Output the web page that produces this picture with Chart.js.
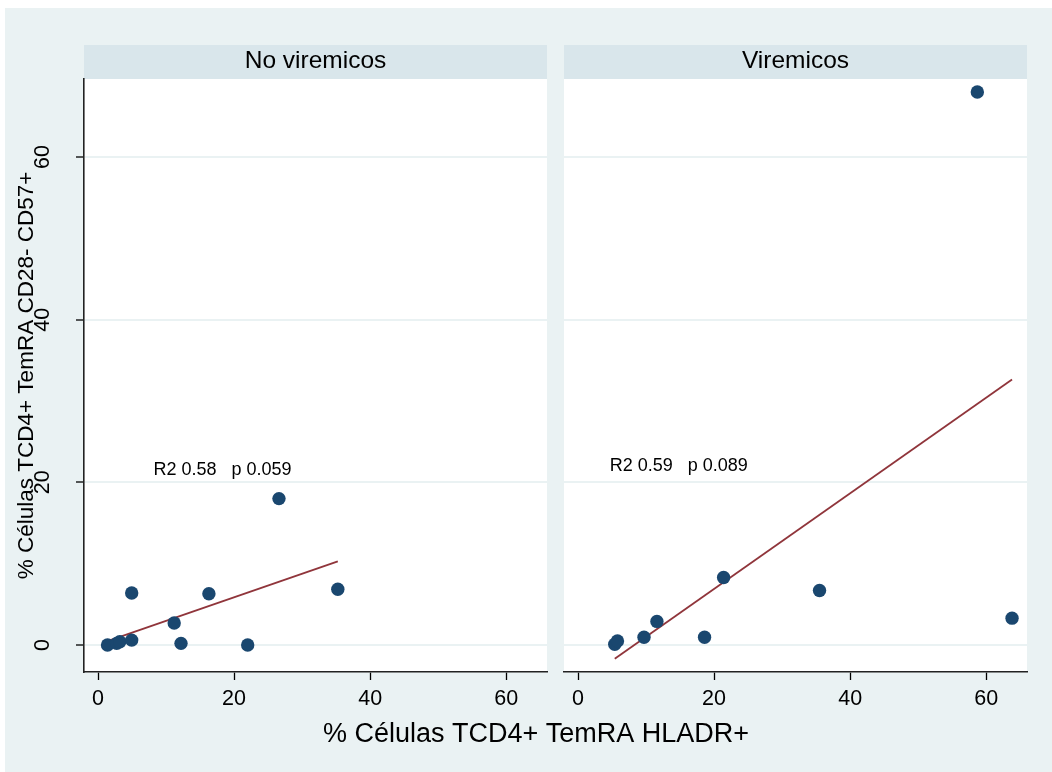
<!DOCTYPE html>
<html>
<head>
<meta charset="utf-8">
<script src="https://cdn.jsdelivr.net/npm/chart.js@4.4.1/dist/chart.umd.min.js"></script>
<style>
  html, body { margin: 0; padding: 0; background: #ffffff; }
  #wrap { position: relative; width: 1052px; height: 772px; overflow: hidden; }
  #bg { position: absolute; left: 5px; top: 8px; right: 0; bottom: 0; background: #EAF2F3; }
  canvas.panel { position: absolute; left: 0; top: 0; }
</style>
</head>
<body>
<div id="wrap">
  <div id="bg"></div>
  <canvas id="panelA" class="panel" width="1052" height="772"></canvas>
  <canvas id="panelB" class="panel" width="1052" height="772"></canvas>
</div>
<script>
// Panel titles and axis titles
const panelTitles = ['No viremicos', 'Viremicos'];
const xTitle = '% Células TCD4+ TemRA HLADR+';
const yTitle = '% Células TCD4+ TemRA CD28- CD57+';

// Tick values shared by both panels
const xTicks = [0, 20, 40, 60];
const yTicks = [0, 20, 40, 60];

// No viremicos: % HLADR+ (x) vs % CD28- CD57+ (y)
const noVirX = [1.4, 2.75, 3.2, 4.95, 4.95, 11.2, 12.2, 16.3, 22.0, 26.6, 35.25];
const noVirY = [0.0, 0.2, 0.4, 0.6, 6.4, 2.7, 0.2, 6.3, 0.0, 18.0, 6.85];

// Viremicos
const virX = [5.4, 5.8, 9.7, 11.6, 18.6, 21.4, 35.5, 58.7, 63.8];
const virY = [0.1, 0.5, 0.95, 2.9, 0.95, 8.3, 6.7, 68.0, 3.3];

// Fit statistics shown in each panel
const statLabels = ['R2 0.58   p 0.059', 'R2 0.59   p 0.089'];

// Layout constants
const W = 1052, H = 772;
const plotTop = 79, plotBottom = 672, stripTop = 45;
const panelAL = 84, panelAR = 547, panelBL = 564, panelBR = 1027;
const xRange = [-2.06, 66.0];
const yRange = [-3.32, 69.6];
const statPos = [{x: 18.3, y: 21.5}, {x: 14.8, y: 22.0}];

const FONT = '"Liberation Sans", Arial, Helvetica, sans-serif';
const DOT = '#1A476F';
const FIT = '#90353B';
const BG = '#EAF2F3';
const STRIP = '#D9E6EB';

function toPoints(xs, ys) {
  return xs.map((x, i) => ({x: x, y: ys[i]}));
}

// Least-squares line over the observed x range
function fitLine(xs, ys) {
  const n = xs.length;
  const mx = xs.reduce((a, b) => a + b, 0) / n;
  const my = ys.reduce((a, b) => a + b, 0) / n;
  let sxy = 0, sxx = 0;
  for (let i = 0; i < n; i++) {
    sxy += (xs[i] - mx) * (ys[i] - my);
    sxx += (xs[i] - mx) * (xs[i] - mx);
  }
  const b = sxy / sxx, a = my - b * mx;
  const lo = Math.min(...xs), hi = Math.max(...xs);
  return [{x: lo, y: a + b * lo}, {x: hi, y: a + b * hi}];
}

// Plot background, header strip and stat label for each panel
const panelDecor = {
  id: 'panelDecor',
  beforeDraw(chart, args, opts) {
    const {ctx, chartArea: ca} = chart;
    ctx.save();
    ctx.fillStyle = '#ffffff';
    ctx.fillRect(ca.left, ca.top, ca.right - ca.left, ca.bottom - ca.top);
    ctx.fillStyle = STRIP;
    ctx.fillRect(ca.left, stripTop, ca.right - ca.left, ca.top - stripTop);
    ctx.fillStyle = '#000';
    ctx.font = '24.5px ' + FONT;
    ctx.textAlign = 'center';
    ctx.textBaseline = 'middle';
    ctx.fillText(opts.title, (ca.left + ca.right) / 2, (stripTop + ca.top) / 2 - 1);
    ctx.restore();
  },
  afterDatasetsDraw(chart, args, opts) {
    const {ctx, scales} = chart;
    ctx.save();
    ctx.fillStyle = '#000';
    ctx.font = '18px ' + FONT;
    ctx.textAlign = 'center';
    ctx.textBaseline = 'middle';
    ctx.fillText(opts.stat, scales.x.getPixelForValue(opts.statAt.x), scales.y.getPixelForValue(opts.statAt.y));
    ctx.restore();
  }
};

// Rotated y tick labels and the axis titles (left panel only)
const axisText = {
  id: 'axisText',
  afterDraw(chart) {
    const {ctx, scales} = chart;
    ctx.save();
    ctx.fillStyle = '#000';
    ctx.textAlign = 'center';
    ctx.textBaseline = 'middle';
    ctx.font = '21.5px ' + FONT;
    yTicks.forEach(v => {
      const py = scales.y.getPixelForValue(v);
      ctx.save();
      ctx.translate(43, py);
      ctx.rotate(-Math.PI / 2);
      ctx.fillText(String(v), 0, 0);
      ctx.restore();
    });
    ctx.font = '22.5px ' + FONT;
    ctx.save();
    ctx.translate(27, (plotTop + plotBottom) / 2);
    ctx.rotate(-Math.PI / 2);
    ctx.fillText(yTitle, 0, 0);
    ctx.restore();
    ctx.font = '27px ' + FONT;
    ctx.fillText(xTitle, 536, 735);
    ctx.restore();
  }
};

function makePanel(id, idx, xs, ys, showY) {
  const left = idx === 0 ? panelAL : panelBL;
  const right = idx === 0 ? panelAR : panelBR;
  const yWidth = showY ? left : 0;
  return new Chart(document.getElementById(id), {
    type: 'scatter',
    data: {
      datasets: [
        {
          type: 'line',
          data: fitLine(xs, ys),
          borderColor: FIT,
          borderWidth: 1.8,
          pointRadius: 0,
          fill: false,
          order: 1
        },
        {
          data: toPoints(xs, ys),
          backgroundColor: DOT,
          borderColor: DOT,
          pointRadius: 6.7,
          pointBorderWidth: 0,
          order: 0
        }
      ]
    },
    options: {
      responsive: false,
      animation: false,
      events: [],
      layout: {
        padding: {left: left - yWidth, right: W - right, top: plotTop, bottom: 0}
      },
      plugins: {
        legend: {display: false},
        tooltip: {enabled: false},
        panelDecor: {title: panelTitles[idx], stat: statLabels[idx], statAt: statPos[idx]}
      },
      scales: {
        x: {
          type: 'linear',
          min: xRange[0],
          max: xRange[1],
          afterBuildTicks: s => { s.ticks = xTicks.map(v => ({value: v})); },
          afterFit: s => { s.height = H - plotBottom; },
          ticks: {
            color: '#000',
            font: {family: FONT, size: 21.5},
            padding: 6,
            maxRotation: 0
          },
          grid: {
            display: true,
            drawOnChartArea: false,
            drawTicks: true,
            tickLength: 8,
            tickColor: '#000',
            tickWidth: 1.3
          },
          border: {display: true, color: '#222', width: 1.6}
        },
        y: {
          type: 'linear',
          min: yRange[0],
          max: yRange[1],
          afterBuildTicks: s => { s.ticks = yTicks.map(v => ({value: v})); },
          afterFit: s => { s.width = yWidth; },
          ticks: {display: false},
          grid: {
            display: true,
            drawOnChartArea: true,
            color: BG,
            lineWidth: 2,
            drawTicks: showY,
            tickLength: 8,
            tickColor: '#000',
            tickWidth: 1.3
          },
          border: {display: showY, color: '#222', width: 1.6}
        }
      }
    },
    plugins: showY ? [panelDecor, axisText] : [panelDecor]
  });
}

makePanel('panelA', 0, noVirX, noVirY, true);
makePanel('panelB', 1, virX, virY, false);
</script>
</body>
</html>
